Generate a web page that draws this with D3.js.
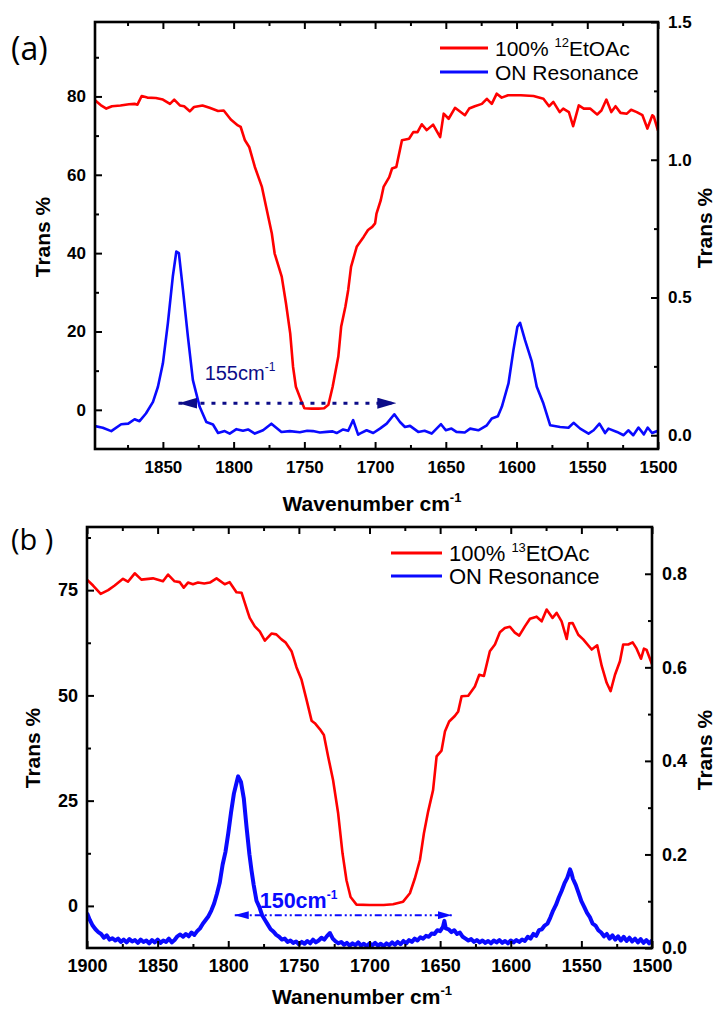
<!DOCTYPE html>
<html>
<head>
<meta charset="utf-8">
<script src="https://cdn.jsdelivr.net/npm/d3@7"></script>
<style>
  body { margin: 0; background: #fff; }
  svg text { font-family: "Liberation Sans", Arial, sans-serif; }
</style>
</head>
<body>
<svg id="chart" width="717" height="1009"></svg>
<script>
// ---- panel (a) data: [wavenumber, value] ----
const ethyl12 = [
  [1898,79.0],[1894,77.8],[1890,76.9],[1886,77.5],[1880,77.7],[1874,78.0],[1870,78.1],[1868,77.9],
  [1865,80.1],[1861,79.7],[1855,79.6],[1850,79.2],[1845,78.1],[1842,79.2],[1838,77.7],[1835,77.5],
  [1831,76.2],[1828,77.3],[1822,77.7],[1817,77.1],[1811,76.3],[1807,76.4],[1802,74.1],[1797,72.6],
  [1795,72.2],[1792,68.8],[1789,67.1],[1785,62.0],[1780,56.9],[1777,51.8],[1773,45.0],[1771,39.9],
  [1766,34.0],[1763,27.2],[1760,19.5],[1758,11.0],[1756,5.9],[1752,2.1],[1750,0.4],[1745,0.3],
  [1740,0.3],[1736,0.4],[1733,1.3],[1730,5.9],[1726,13.6],[1724,21.2],[1721,26.3],[1719,30.6],
  [1717,36.5],[1713,41.6],[1708,44.2],[1705,45.9],[1702,46.7],[1700,47.6],[1699,50.1],[1696,53.5],
  [1694,56.9],[1690,59.4],[1688,61.6],[1685,62.0],[1683,65.4],[1681,68.8],[1676,69.2],[1673,70.9],
  [1670,70.9],[1667,72.9],[1663.5,71.4],[1659,72.8],[1654,69.6],[1651.5,75.6],[1648,74.3],[1643.5,77.1],
  [1636.5,75.2],[1633.5,76.9],[1629.5,77.5],[1624.5,78.1],[1621,79.4],[1617.5,78.1],[1614,80.7],[1610.5,79.7],
  [1606,80.3],[1597,80.3],[1588,80.1],[1581,79.4],[1577,77.5],[1574,78.6],[1569.5,76.0],[1567,76.9],
  [1563,76.0],[1560,72.4],[1556,77.7],[1552.5,76.9],[1548,76.9],[1543,75.4],[1540,76.4],[1536.5,79.2],
  [1533,76.0],[1530,77.5],[1526.5,75.8],[1522,75.6],[1519,76.6],[1515,76.0],[1511,75.2],[1507.5,71.8],
  [1504,75.2],[1503,74.9],[1500,71.3]
];
const onRes12 = [
  [1898,0.033],[1892.5,0.027],[1886.5,0.015],[1879.5,0.040],[1874.5,0.042],[1870,0.058],[1866.5,0.051],
  [1862,0.079],[1857,0.121],[1853.5,0.176],[1850,0.261],[1846.5,0.406],[1843,0.576],[1840.5,0.667],
  [1838.7,0.661],[1835.8,0.527],[1832.3,0.357],[1828.8,0.200],[1824,0.103],[1819.3,0.048],[1814.6,0.039],
  [1811,0.008],[1806.3,0.015],[1802.8,0.006],[1798,0.022],[1793.4,0.016],[1789.8,0.021],[1785,0.006],
  [1779.2,0.018],[1773.3,0.042],[1766.2,0.012],[1760.3,0.015],[1753.2,0.011],[1748,0.016],[1744,0.015],
  [1739,0.010],[1734.3,0.012],[1730,0.014],[1727.2,0.008],[1722.6,0.021],[1719,0.016],[1715.5,0.055],
  [1712,0.002],[1710.8,0.006],[1706,0.018],[1701.3,0.008],[1696.6,0.024],[1691.8,0.042],[1686.4,0.076],
  [1682.4,0.048],[1678.9,0.030],[1675.3,0.034],[1669.5,0.012],[1665,0.016],[1660,0.006],[1653.4,0.040],
  [1650,0.018],[1646,0.024],[1642.5,0.012],[1636.6,0.010],[1632.8,0.024],[1627,0.018],[1621,0.036],
  [1617.5,0.061],[1613.2,0.069],[1610.4,0.103],[1605.7,0.188],[1602.2,0.309],[1599.4,0.394],[1597.5,0.408],
  [1594,0.345],[1589.2,0.267],[1585.7,0.176],[1581,0.115],[1576.2,0.036],[1569.2,0.030],[1563.3,0.027],
  [1559.7,0.045],[1555,0.024],[1549.1,0.006],[1545.5,0.018],[1541.4,0.042],[1537.4,0.008],[1535,0.024],
  [1529,0.012],[1524.3,0.000],[1521,0.018],[1517.5,0.000],[1513.8,0.028],[1510,0.003],[1507.3,0.028],
  [1504.2,0.008],[1500,0.016]
];

// ---- panel (b) data ----
const ethyl13 = [
  [1900,77.5],[1895.7,76.1],[1890.3,74.1],[1885,75.0],[1880.4,76.1],[1874.5,77.7],[1871,77.0],[1866.2,79.0],
  [1861.5,77.5],[1853.3,77.8],[1846.2,77.1],[1842.6,78.7],[1838,77.1],[1834.3,76.9],[1831.5,75.6],[1828.5,76.8],
  [1825,76.4],[1821.4,76.8],[1817,76.6],[1813,76.8],[1808.3,77.8],[1802.5,76.4],[1799,76.9],[1794.2,74.5],
  [1790.6,74.4],[1786,69.6],[1784.8,68.4],[1781.2,66.4],[1777.7,65.2],[1774.1,63.0],[1769.4,64.7],[1766,64.5],
  [1762.3,63.3],[1759.5,62.6],[1755.2,60.5],[1751.7,56.7],[1748.1,53.7],[1744.6,49.0],[1741,44.0],[1738.7,43.4],
  [1735.2,42.0],[1732.3,40.6],[1729.3,35.5],[1725.8,29.9],[1722.2,22.0],[1719.1,12.5],[1716.3,6.1],[1713.4,2.1],
  [1709.2,0.3],[1700,0.2],[1690,0.2],[1683.3,0.4],[1676.2,1.0],[1671.4,3.0],[1667.9,6.5],[1664.3,10.9],
  [1661.5,17.2],[1658.5,22.4],[1655,27.5],[1652.5,35.5],[1649,36.9],[1646.6,41.4],[1643.6,43.8],[1639.6,45.1],
  [1637.2,46.2],[1634.8,49.8],[1630.1,49.9],[1625.4,52.1],[1622.3,54.9],[1619,54.6],[1614.8,60.5],[1611.2,62.1],
  [1607.7,65.0],[1604.2,66.0],[1600.6,66.3],[1597.1,64.9],[1594,64.2],[1590,66.4],[1586.4,68.2],[1581.7,68.7],
  [1578.1,67.6],[1574.6,70.4],[1570.4,68.4],[1567.5,69.6],[1564,67.6],[1560.4,63.4],[1558.6,67.1],[1556.2,67.2],
  [1552.2,64.4],[1548.7,63.3],[1542.7,60.9],[1538.8,61.9],[1535.6,57.0],[1532.1,53.0],[1529.3,51.0],[1526.2,54.9],
  [1522.7,58.1],[1520.4,62.1],[1516.8,62.1],[1513.7,62.6],[1510.9,61.1],[1507.8,58.7],[1505.7,61.1],[1503.8,60.8],
  [1500,57.4]
];
const onRes13 = [
  [1900,0.075],[1898,0.060],[1896,0.048],[1894,0.040],[1892,0.034],[1890,0.030],[1888,0.022],[1886,0.027],
  [1884,0.018],[1882,0.021],[1880,0.016],[1878,0.020],[1876,0.013],[1874,0.018],[1872,0.012],[1870,0.019],
  [1868,0.014],[1866,0.017],[1864,0.011],[1862,0.018],[1860,0.013],[1858,0.016],[1856,0.010],[1854,0.017],
  [1852,0.012],[1850,0.018],[1848,0.011],[1846,0.016],[1844,0.013],[1842,0.020],[1840,0.012],[1838,0.017],
  [1836,0.025],[1834,0.029],[1832,0.024],[1830,0.030],[1828,0.025],[1826,0.033],[1824,0.028],[1822,0.036],
  [1820,0.042],[1818,0.052],[1816,0.060],[1814,0.068],[1812,0.080],[1810,0.095],[1808,0.116],[1806,0.140],
  [1804,0.178],[1802,0.205],[1800,0.245],[1798,0.290],[1796,0.330],[1794,0.355],[1793,0.367],[1791,0.355],
  [1789,0.320],[1787,0.257],[1785,0.200],[1783.5,0.165],[1782,0.135],[1780,0.101],[1778,0.088],[1776,0.070],
  [1774,0.060],[1772,0.050],[1770,0.040],[1768,0.035],[1766,0.028],[1764,0.024],[1762,0.018],[1760,0.020],
  [1758,0.013],[1756,0.016],[1754,0.011],[1752,0.014],[1750,0.008],[1748,0.013],[1746,0.009],[1744,0.015],
  [1742,0.010],[1740,0.018],[1738,0.012],[1736,0.016],[1734,0.022],[1732,0.018],[1730,0.026],[1728,0.032],
  [1726,0.020],[1724,0.014],[1722,0.010],[1720,0.013],[1718,0.007],[1716,0.011],[1714,0.005],[1712,0.010],
  [1710,0.006],[1708,0.012],[1706,0.005],[1704,0.009],[1702,0.004],[1700,0.010],[1698,0.006],[1696,0.011],
  [1694,0.005],[1692,0.009],[1690,0.004],[1688,0.010],[1686,0.006],[1684,0.012],[1682,0.007],[1680,0.013],
  [1678,0.008],[1676,0.015],[1674,0.010],[1672,0.017],[1670,0.013],[1668,0.020],[1666,0.016],[1664,0.023],
  [1662,0.020],[1660,0.026],[1658,0.024],[1656,0.031],[1654,0.030],[1652,0.038],[1650,0.036],[1648,0.045],
  [1647,0.058],[1646,0.042],[1644,0.040],[1642,0.034],[1640,0.038],[1638,0.030],[1636,0.033],[1634,0.024],
  [1632,0.020],[1630,0.016],[1628,0.019],[1626,0.013],[1624,0.017],[1622,0.012],[1620,0.016],[1618,0.011],
  [1616,0.015],[1614,0.010],[1612,0.016],[1610,0.012],[1608,0.017],[1606,0.011],[1604,0.015],[1602,0.010],
  [1600,0.016],[1598,0.012],[1596,0.017],[1594,0.013],[1592,0.018],[1590,0.015],[1588,0.024],[1586,0.020],
  [1584,0.030],[1582,0.026],[1580,0.038],[1578,0.040],[1576,0.048],[1574,0.052],[1572,0.065],[1570,0.080],
  [1568,0.092],[1566,0.108],[1564,0.122],[1562,0.138],[1560,0.150],[1558,0.168],[1557,0.160],[1556,0.148],
  [1554,0.135],[1552,0.118],[1550,0.100],[1548,0.088],[1546,0.075],[1544,0.066],[1542,0.052],[1540,0.048],
  [1538,0.038],[1536,0.033],[1534,0.025],[1532,0.030],[1530,0.020],[1528,0.027],[1526,0.018],[1524,0.025],
  [1522,0.016],[1520,0.024],[1518,0.015],[1516,0.022],[1514,0.014],[1512,0.020],[1510,0.012],[1508,0.019],
  [1506,0.011],[1504,0.017],[1502,0.010],[1500,0.016]
];

// ---- ticks ----
const xMajorA = [1850, 1800, 1750, 1700, 1650, 1600, 1550, 1500];
const xMinorA = [1875, 1825, 1775, 1725, 1675, 1625, 1575, 1525];
const yLeftMajorA = [0, 20, 40, 60, 80];
const yLeftMinorA = [10, 30, 50, 70, 90];
const yRightMajorA = [0, 0.5, 1.0, 1.5];
const yRightMinorA = [0.25, 0.75, 1.25];

const xMajorB = [1900, 1850, 1800, 1750, 1700, 1650, 1600, 1550, 1500];
const xMinorB = [1875, 1825, 1775, 1725, 1675, 1625, 1575, 1525];
const yLeftMajorB = [0, 25, 50, 75];
const yLeftMinorB = [12.5, 37.5, 62.5, 87.5];
const yRightMajorB = [0, 0.2, 0.4, 0.6, 0.8];
const yRightMinorB = [0.1, 0.3, 0.5, 0.7];

const RED = "#ff0000";
const BLUE = "#0a0aff";

const svg = d3.select("#chart");
const defs = svg.append("defs");

// arrow heads
function arrowMarker(id, len, half, color) {
  defs.append("marker")
    .attr("id", id)
    .attr("markerUnits", "userSpaceOnUse")
    .attr("markerWidth", len).attr("markerHeight", half * 2)
    .attr("refX", len).attr("refY", half)
    .attr("orient", "auto-start-reverse")
    .append("path")
    .attr("d", `M0,0 L${len},${half} L0,${half * 2} Z`)
    .attr("fill", color);
}
arrowMarker("arrowA", 19, 5.5, "#0c0c88");
arrowMarker("arrowB", 14, 4, BLUE);

function addAxis(g, gen, scale, transform, major, minor, fmt, fontSize, pad) {
  const a = g.append("g").attr("transform", transform);
  a.append("g").call(gen(scale).tickValues(minor).tickSize(-4).tickSizeOuter(0).tickFormat(""));
  a.append("g").call(gen(scale).tickValues(major).tickSize(-7).tickSizeOuter(0).tickPadding(pad).tickFormat(fmt));
  a.selectAll(".domain").remove();
  a.selectAll(".tick line").attr("stroke", "#000").attr("stroke-width", 2);
  a.selectAll(".tick text")
    .attr("fill", "#000")
    .style("font-family", '"Liberation Sans", Arial, sans-serif')
    .style("font-size", fontSize + "px")
    .style("font-weight", "bold");
}

function supText(sel, parts) {
  // parts: [text, sup, rest, supSize, shift]
  const shift = parts[4] || -9;
  sel.append("tspan").text(parts[0]);
  sel.append("tspan").attr("dy", shift).style("font-size", parts[3] + "px").text(parts[1]);
  if (parts[2]) sel.append("tspan").attr("dy", -shift).text(parts[2]);
}

function drawPanel(p) {
  const g = svg.append("g");
  const x = d3.scaleLinear().domain(p.xDomain).range([p.left, p.right]);
  const yL = d3.scaleLinear().domain(p.yLeftDomain).range([p.bottom, p.top]);
  const yR = d3.scaleLinear().domain(p.yRightDomain).range([p.bottom, p.top]);

  defs.append("clipPath").attr("id", "clip-" + p.name)
    .append("rect")
    .attr("x", p.left).attr("y", p.top)
    .attr("width", p.right - p.left).attr("height", p.bottom - p.top);

  const plot = g.append("g").attr("clip-path", `url(#clip-${p.name})`);

  plot.append("path").datum(p.red)
    .attr("d", d3.line().x(d => x(d[0])).y(d => yL(d[1])))
    .attr("fill", "none").attr("stroke", RED)
    .attr("stroke-width", 2.6).attr("stroke-linejoin", "round");

  plot.append("path").datum(p.blue)
    .attr("d", d3.line().x(d => x(d[0])).y(d => yR(d[1])))
    .attr("fill", "none").attr("stroke", BLUE)
    .attr("stroke-width", p.blueWidth).attr("stroke-linejoin", "round");

  // axes: ticks point inward on all four sides
  addAxis(g, d3.axisBottom, x, `translate(0,${p.bottom})`, p.xMajor, p.xMinor, d3.format("d"), p.tickFont, p.padX);
  addAxis(g, d3.axisTop, x, `translate(0,${p.top})`, p.xMajor, p.xMinor, () => "", p.tickFont, 0);
  addAxis(g, d3.axisLeft, yL, `translate(${p.left},0)`, p.yLeftMajor, p.yLeftMinor, d3.format("d"), p.tickFont, 9);
  addAxis(g, d3.axisRight, yR, `translate(${p.right},0)`, p.yRightMajor, p.yRightMinor, d3.format(".1f"), p.tickFont, 10);

  g.append("rect")
    .attr("x", p.left).attr("y", p.top)
    .attr("width", p.right - p.left).attr("height", p.bottom - p.top)
    .attr("fill", "none").attr("stroke", "#000").attr("stroke-width", 2.6);

  // axis titles
  g.append("text")
    .attr("transform", `translate(${p.leftTitleX},${p.leftTitleY}) rotate(-90)`)
    .attr("text-anchor", "middle").style("font-size", p.titleFont + "px").style("font-weight", "bold")
    .text("Trans %");
  g.append("text")
    .attr("transform", `translate(${p.rightTitleX},${p.rightTitleY}) rotate(-90)`)
    .attr("text-anchor", "middle").style("font-size", p.titleFont + "px").style("font-weight", "bold")
    .text("Trans %");
  const xt = g.append("text")
    .attr("x", p.xTitleX).attr("y", p.xTitleY)
    .attr("text-anchor", "middle").style("font-size", p.titleFont + "px").style("font-weight", "bold");
  supText(xt, [p.xTitle, "-1", "", 13]);

  // panel letter
  g.append("text")
    .attr("x", p.letterX).attr("y", p.letterY)
    .style("font-family", '"Open Sans", "Liberation Sans", sans-serif')
    .style("font-size", p.letterFont + "px")
    .text(p.letter);

  // legend
  const lg = g.append("g");
  [[RED, p.legendRed], [BLUE, "ON Resonance"]].forEach((item, i) => {
    const ly = p.legendY + i * p.legendStep;
    lg.append("line")
      .attr("x1", p.legendX).attr("x2", p.legendX + p.legendLen)
      .attr("y1", ly).attr("y2", ly)
      .attr("stroke", item[0]).attr("stroke-width", 3);
    const t = lg.append("text")
      .attr("x", p.legendX + p.legendLen + 7).attr("y", ly + p.legendFont * 0.36)
      .style("font-size", p.legendFont + "px");
    if (i === 0) supText(t, ["100% ", item[1], "EtOAc", 13, -9]);
    else t.text(item[1]);
  });

  // separation arrow + label
  const ar = p.arrow;
  g.append("line")
    .attr("x1", x(ar.from)).attr("x2", x(ar.to))
    .attr("y1", yL(ar.y)).attr("y2", yL(ar.y))
    .attr("stroke", ar.color).attr("stroke-width", ar.width)
    .attr("stroke-dasharray", ar.dash)
    .attr("marker-start", `url(#${ar.marker})`)
    .attr("marker-end", `url(#${ar.marker})`);
  const lt = g.append("text")
    .attr("x", x(ar.labelX)).attr("y", yL(ar.labelY))
    .attr("fill", ar.color)
    .style("font-size", ar.font + "px")
    .style("font-weight", ar.bold ? "bold" : "normal");
  supText(lt, [ar.label, "-1", "", 12]);
}

drawPanel({
  name: "a", left: 95, right: 658, top: 22, bottom: 449,
  xDomain: [1898, 1500], yLeftDomain: [-10, 99], yRightDomain: [-0.05, 1.5],
  red: ethyl12, blue: onRes12, blueWidth: 2.6,
  xMajor: xMajorA, xMinor: xMinorA,
  yLeftMajor: yLeftMajorA, yLeftMinor: yLeftMinorA,
  yRightMajor: yRightMajorA, yRightMinor: yRightMinorA,
  tickFont: 17, padX: 12, titleFont: 21,
  leftTitleX: 50, leftTitleY: 237, rightTitleX: 712, rightTitleY: 228,
  xTitle: "Wavenumber cm", xTitleX: 372, xTitleY: 511,
  letter: "(a)", letterX: 11, letterY: 60, letterFont: 32,
  legendRed: "12", legendX: 440, legendLen: 48, legendY: 48, legendStep: 24, legendFont: 21,
  arrow: { from: 1839, to: 1685, y: 1.7, color: "#0c0c88", width: 3, dash: "4,7", marker: "arrowA",
           label: "155cm", labelX: 1820.5, labelY: 7.6, font: 20, bold: false }
});

drawPanel({
  name: "b", left: 87, right: 652, top: 527, bottom: 948,
  xDomain: [1900, 1500], yLeftDomain: [-10, 90], yRightDomain: [0, 0.9],
  red: ethyl13, blue: onRes13, blueWidth: 4,
  xMajor: xMajorB, xMinor: xMinorB,
  yLeftMajor: yLeftMajorB, yLeftMinor: yLeftMinorB,
  yRightMajor: yRightMajorB, yRightMinor: yRightMinorB,
  tickFont: 18, padX: 11, titleFont: 21,
  leftTitleX: 40, leftTitleY: 748, rightTitleX: 712, rightTitleY: 750,
  xTitle: "Wanenumber cm", xTitleX: 362, xTitleY: 1004,
  letter: "(b )", letterX: 11, letterY: 550, letterFont: 29,
  legendRed: "13", legendX: 391, legendLen: 51, legendY: 553, legendStep: 23, legendFont: 22,
  arrow: { from: 1795.4, to: 1641.7, y: -2.2, color: BLUE, width: 2, dash: "7,3,2,3,2,3", marker: "arrowB",
           label: "150cm", labelX: 1777.7, labelY: -0.5, font: 21.5, bold: true }
});
</script>
</body>
</html>
